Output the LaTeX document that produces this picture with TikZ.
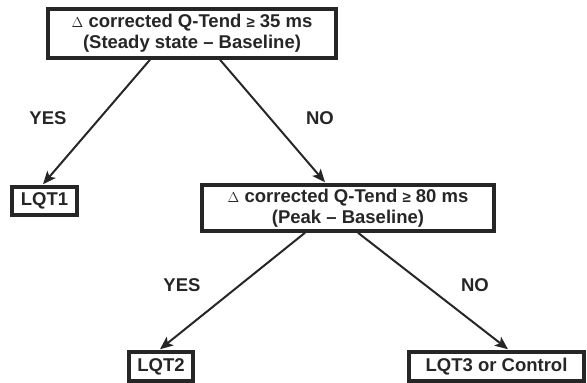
\documentclass[tikz,border=0pt]{standalone}
\usepackage{fontspec}
\setmainfont{Liberation Sans}
\usetikzlibrary{arrows.meta,calc}
\begin{document}
\begin{tikzpicture}[x=1pt,y=-1pt,
  box/.style={draw=black!85,line width=3.5pt,minimum height=#1,inner sep=0pt,align=center,font=\bfseries\fontsize{18.5}{21}\selectfont,text=black!85},
  lab/.style={font=\bfseries\fontsize{18.5}{20}\selectfont,text=black!85},
  arr/.style={draw=black!85,line width=2pt,-{Stealth[length=13pt,width=11pt,inset=3pt]}}]
\useasboundingbox (0,0) rectangle (587,383);
\node[box=49pt,minimum width=288pt] (top) at (192,33.5) {{\mdseries\fontsize{15}{21}\selectfont$\Delta$} corrected Q-Tend {\fontsize{15}{21}\selectfont≥} 35 ms\\(Steady state – Baseline)};
\node[box=28pt,minimum width=65pt] (lqt1) at (44.5,201) {LQT1};
\node[box=46pt,minimum width=292pt] (mid) at (348,208) {{\mdseries\fontsize{15}{21}\selectfont$\Delta$} corrected Q-Tend {\fontsize{15}{21}\selectfont≥} 80 ms\\(Peak – Baseline)};
\node[box=29pt,minimum width=64pt] (lqt2) at (161,366.5) {LQT2};
\node[box=29pt,minimum width=175pt] (lqt3) at (496.5,366.5) {LQT3 or Control};
\node[lab] (yes1) at (48,118) {YES};
\node[lab] (no1) at (320,118) {NO};
\node[lab] (yes2) at (182,285) {YES};
\node[lab] (no2) at (475,285) {NO};
\draw[arr] ($(top.south)+(-42,0)$) -- ($(lqt1.north)+(-1.5,-1)$);
\draw[arr] ($(top.south)+(28,0)$) -- ($(mid.north)+(-23,-1)$);
\draw[arr] ($(mid.south)+(-43,0)$) -- ($(lqt2.north)+(-1,-1)$);
\draw[arr] ($(mid.south)+(10,0)$) -- ($(lqt3.north)+(11.5,-1)$);
\end{tikzpicture}
\end{document}
